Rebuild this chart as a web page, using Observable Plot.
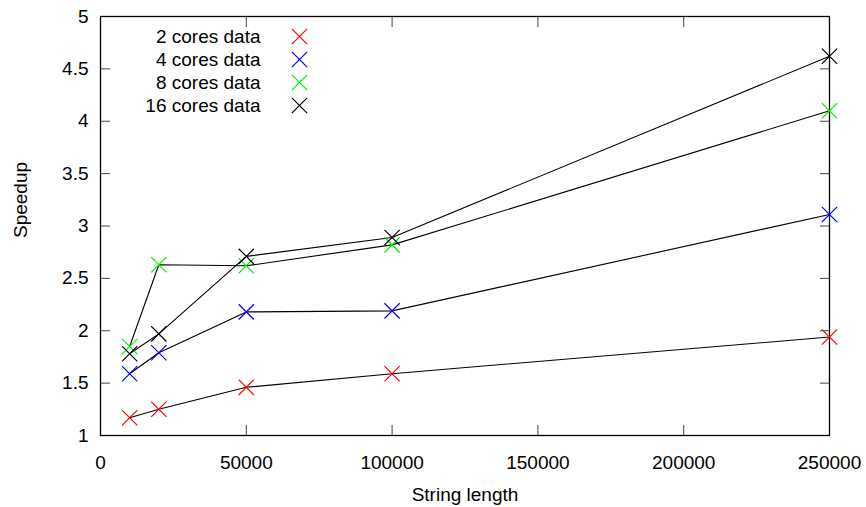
<!DOCTYPE html>
<html>
<head>
<meta charset="utf-8">
<script src="https://cdn.jsdelivr.net/npm/d3@7"></script>
<script src="https://cdn.jsdelivr.net/npm/@observablehq/plot@0.6"></script>
<style>
  html, body { margin: 0; padding: 0; background: #fff; overflow: hidden; }
</style>
</head>
<body>
<div id="chart"></div>
<script>
const lengths = [10000, 20000, 50000, 100000, 250000];
const cores2 = [1.17, 1.25, 1.46, 1.59, 1.94];
const cores4 = [1.59, 1.79, 2.18, 2.19, 3.11];
const cores8 = [1.85, 2.63, 2.62, 2.82, 4.10];
const cores16 = [1.78, 1.97, 2.71, 2.89, 4.62];
const seriesNames = ["2 cores data", "4 cores data", "8 cores data", "16 cores data"];
const seriesColors = ["#ff0000", "#0000ff", "#00ee00", "#000000"];
const xTicks = [0, 50000, 100000, 150000, 200000, 250000];
const yTicks = [1, 1.5, 2, 2.5, 3, 3.5, 4, 4.5, 5];

const allSeries = [cores2, cores4, cores8, cores16];
const rows = [];
allSeries.forEach((vals, i) => {
  vals.forEach((v, j) => rows.push({series: seriesNames[i], x: lengths[j], y: v}));
});

const colorScale = {domain: seriesNames, range: seriesColors};

const legendMarks = [];
seriesNames.forEach((name, i) => {
  legendMarks.push(Plot.text([name], {frameAnchor: "top-left", dx: 160, dy: 20 + 23 * i, textAnchor: "end", lineAnchor: "middle", fill: "black", text: d => d}));
  legendMarks.push(Plot.dot([name], {frameAnchor: "top-left", dx: 199, dy: 20 + 23 * i, symbol: "times", r: 7, stroke: seriesColors[i], strokeWidth: 1.2}));
});

const chart = Plot.plot({
  width: 866,
  height: 507,
  marginLeft: 100,
  marginRight: 37,
  marginTop: 16,
  marginBottom: 72,
  style: {fontFamily: "'Liberation Sans', Arial, sans-serif", fontSize: "19px", color: "black", background: "white"},
  x: {domain: [0, 250000]},
  y: {domain: [1, 5]},
  marks: [
    Plot.axisX(xTicks, {anchor: "bottom", tickSize: -10, tickPadding: 30, tickFormat: d => String(d), label: null, stroke: "#444"}),
    Plot.axisX(xTicks, {anchor: "top", tickSize: -10, tickFormat: () => "", label: null, stroke: "#444"}),
    Plot.axisY(yTicks, {anchor: "left", tickSize: -10, tickPadding: 22, tickFormat: d => String(d), label: null, stroke: "#444"}),
    Plot.axisY(yTicks, {anchor: "right", tickSize: -10, tickFormat: () => "", label: null, stroke: "#444"}),
    Plot.frame({stroke: "black", strokeWidth: 1.3}),
    Plot.line(rows, {x: "x", y: "y", z: "series", stroke: "black", strokeWidth: 1.1}),
    Plot.dot(rows, {x: "x", y: "y", symbol: "times", r: 7, stroke: "series", strokeWidth: 1.2}),
    ...legendMarks,
    Plot.text(["String length"], {frameAnchor: "bottom", dy: 59, lineAnchor: "middle", text: d => d, fill: "black"}),
    Plot.text(["Speedup"], {frameAnchor: "left", dx: -80, dy: 12, rotate: -90, lineAnchor: "middle", text: d => d, fill: "black"})
  ],
  color: colorScale
});
document.getElementById("chart").appendChild(chart);
</script>
</body>
</html>
